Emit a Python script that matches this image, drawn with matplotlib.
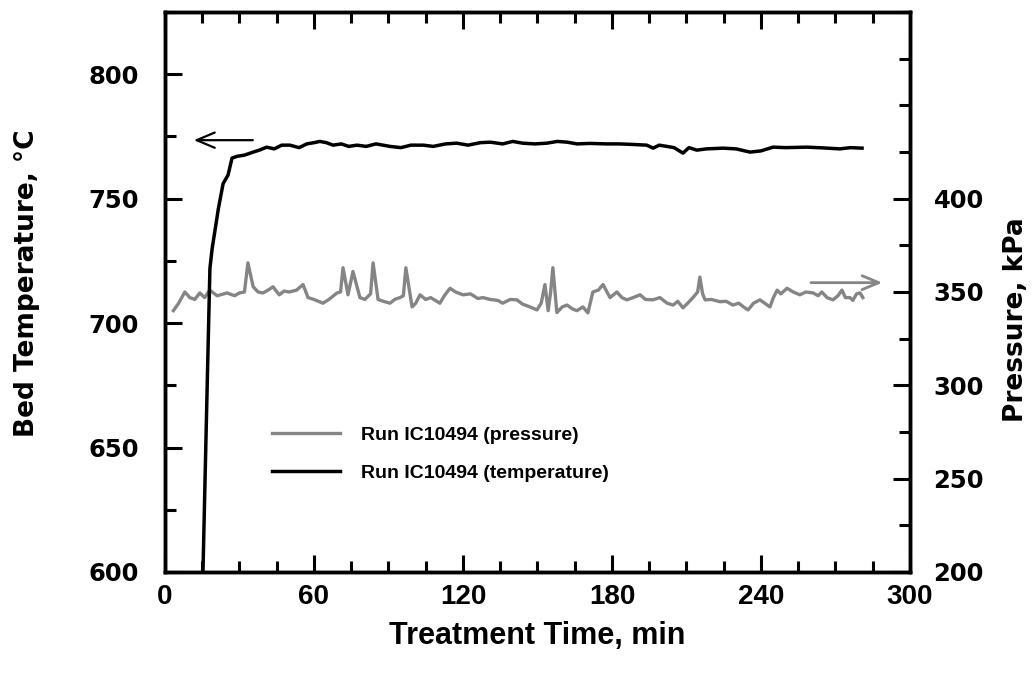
import numpy as np
import matplotlib
matplotlib.use("Agg")
import matplotlib.pyplot as plt
from matplotlib.ticker import MultipleLocator

plt.rcParams['font.family'] = ['Liberation Sans', 'DejaVu Sans']
plt.rcParams['font.weight'] = 'bold'

# bed temperature (degC) vs treatment time (min)
temp_t = [15.3, 16.2, 17.3, 18.1, 19.0, 20.1, 21.5, 23.4, 25.4, 27.0, 29, 32, 35.5, 38, 41,
          44, 47, 50.3, 54, 57.1, 60, 62.4, 65, 67.7, 71, 74, 77.3, 81, 85, 90.6, 95, 99,
          104, 108, 113, 117.5, 122, 127, 131, 136, 140, 144, 149, 153.8, 158, 161.9, 166,
          171, 178, 183, 188, 194, 196.6, 199, 202.1, 205, 208.6, 211, 214.2, 218, 224.7,
          230, 235.6, 240, 244.9, 250, 258.5, 265, 271.8, 276, 280.7]
temp_v = [600, 640, 688, 722, 730, 737, 746, 756, 759.5, 766.3, 767, 767.5, 768.7, 769.5, 770.7,
          770, 771.5, 771.5, 770.5, 772, 772.5, 773, 772.5, 771.5, 772, 771, 771.5, 771, 772,
          771, 770.5, 771.5, 771.5, 771, 772, 772.3, 771.5, 772.5, 772.7, 772, 773, 772.3,
          772, 772.3, 773, 772.7, 772, 772.2, 772, 772, 771.8, 771.5, 770.3, 771.5, 771,
          770.5, 768.3, 770.5, 769.5, 770, 770.3, 770, 768.7, 769.2, 770.7, 770.5, 770.7,
          770.4, 770, 770.5, 770.3]

# reactor pressure (kPa) vs treatment time (min)
pres_t = [3.4, 5.5, 8, 10, 12, 14, 16, 18, 21, 25, 28, 30, 32, 33.4, 35.5, 37.5, 39.5, 41.5,
          43.5, 46, 48, 50, 53, 55.6, 57.6, 60, 63.6, 66, 69.3, 70.7, 71.7, 73.7, 75.7, 78.5,
          80.5, 82.8, 83.8, 85.8, 88, 90.6, 92.5, 94.6, 96, 97, 99.5, 101, 102.7, 105, 107,
          110.7, 112.5, 114.8, 117, 120, 123, 126, 128, 131, 134, 136, 139, 141.7, 144, 147,
          149.8, 151.5, 153, 154.3, 155.3, 156.2, 157.8, 160, 161.9, 164, 165.9, 168.3, 170.3,
          172.3, 174.5, 176.4, 178, 179.2, 182, 184, 186, 188.5, 191.3, 193.5, 196.5, 199.3,
          202.2, 204.6, 206.5, 208.6, 210.5, 212.6, 214.5, 215.4, 216.5, 217.5, 220, 223.5,
          226, 228.7, 231, 233, 234.8, 237, 239.6, 241.5, 243.6, 245, 246.5, 248, 250.5, 253,
          255.7, 258, 261, 263, 264.5, 266.6, 269, 271, 272.6, 274, 275.8, 277, 278.5, 279.9, 281]
pres_v = [340, 344, 350, 347, 346, 349.5, 347, 351, 348, 349.5, 348, 349.5, 350, 365.6, 352.8,
          350, 349.5, 351, 352.8, 348.5, 350.5, 350, 351, 354, 347, 346, 344, 346, 349.5, 350,
          363, 348.5, 361, 347, 346, 349, 365.6, 346, 345, 344, 346, 347, 348, 363, 342, 344,
          348.5, 346, 347, 344, 348, 352, 350, 348.5, 349, 346.5, 347, 346, 345.5, 344, 346,
          345.8, 343.5, 342, 340.4, 344, 354, 340, 350, 363, 339, 342, 343, 341, 340, 342,
          338.8, 350, 351, 354, 350, 347, 350, 347, 345.8, 347, 348.5, 346, 345.8, 347, 344,
          343, 345, 341.5, 344, 347, 350, 358, 349, 345.8, 346, 344.8, 345, 343, 344, 342,
          340.4, 344, 345.8, 344, 342, 347, 351, 349, 352, 350, 348.5, 350, 349.5, 348, 350,
          347, 345.8, 348, 351, 347, 347, 345.5, 349, 349.5, 347]

fig = plt.figure(figsize=(10.35, 6.86), dpi=100)
ax = fig.add_axes([0.1594, 0.1662, 0.7198, 0.8163])
ax2 = ax.twinx()

l_p, = ax2.plot(pres_t, pres_v, color='#858585', lw=2.4, label='Run IC10494 (pressure)')
l_t, = ax.plot(temp_t, temp_v, color='black', lw=2.5, label='Run IC10494 (temperature)')
ax.set_zorder(ax2.get_zorder() + 1)
ax.patch.set_visible(False)

ax.set_xlim(0, 300)
ax.set_ylim(600, 825)
ax2.set_ylim(200, 500)

ax.xaxis.set_major_locator(MultipleLocator(60))
ax.xaxis.set_minor_locator(MultipleLocator(15))
ax.yaxis.set_major_locator(MultipleLocator(50))
ax.yaxis.set_minor_locator(MultipleLocator(25))
ax2.set_yticks([200, 250, 300, 350, 400])
ax2.yaxis.set_minor_locator(MultipleLocator(25))

for a in (ax, ax2):
    for s in a.spines.values():
        s.set_linewidth(2.5)
ax.tick_params(axis='x', which='both', direction='in', top=True, width=2.2, pad=9)
ax.tick_params(axis='y', which='both', direction='in', right=False, width=2.2, pad=19)
ax.tick_params(which='major', length=12)
ax.tick_params(which='minor', length=8)
ax2.tick_params(axis='y', which='both', direction='in', width=2.2, pad=17)
ax2.tick_params(which='major', length=12)
ax2.tick_params(which='minor', length=8)

for lab in ax.get_xticklabels():
    lab.set_fontsize(20)
    lab.set_fontweight('bold')
for lab in ax.get_yticklabels() + ax2.get_yticklabels():
    lab.set_family(['DejaVu Sans'])
    lab.set_fontsize(17.5)
    lab.set_fontweight('bold')

ax.set_xlabel('Treatment Time, min', fontsize=22, fontweight='bold')
ax.xaxis.set_label_coords(0.5, -0.088)
ax.set_ylabel('Bed Temperature, \u00b0C', fontsize=19, fontweight='bold', family=['DejaVu Sans'])
ax.yaxis.set_label_coords(-0.168, 0.516)
ax2.set_ylabel('Pressure, kPa', fontsize=19, fontweight='bold', family=['DejaVu Sans'])
ax2.yaxis.set_label_coords(1.125, 0.45)

# arrows pointing each curve to its axis
ax.annotate('', xy=(10.5, 773.5), xytext=(36.5, 773.5),
            arrowprops=dict(arrowstyle='->,head_length=1.3,head_width=0.55', color='black', lw=1.6))
ax2.annotate('', xy=(290, 355), xytext=(259, 355),
             arrowprops=dict(arrowstyle='->,head_length=1.2,head_width=0.5', color='#858585', lw=2.0))

ax.legend(handles=[l_p, l_t], loc='upper left', bbox_to_anchor=(0.12, 0.292), frameon=False,
          handlelength=3.5, handletextpad=1.1, labelspacing=1.05,
          prop={'size': 14, 'weight': 'bold'})

fig.savefig('out.png', dpi=100)
